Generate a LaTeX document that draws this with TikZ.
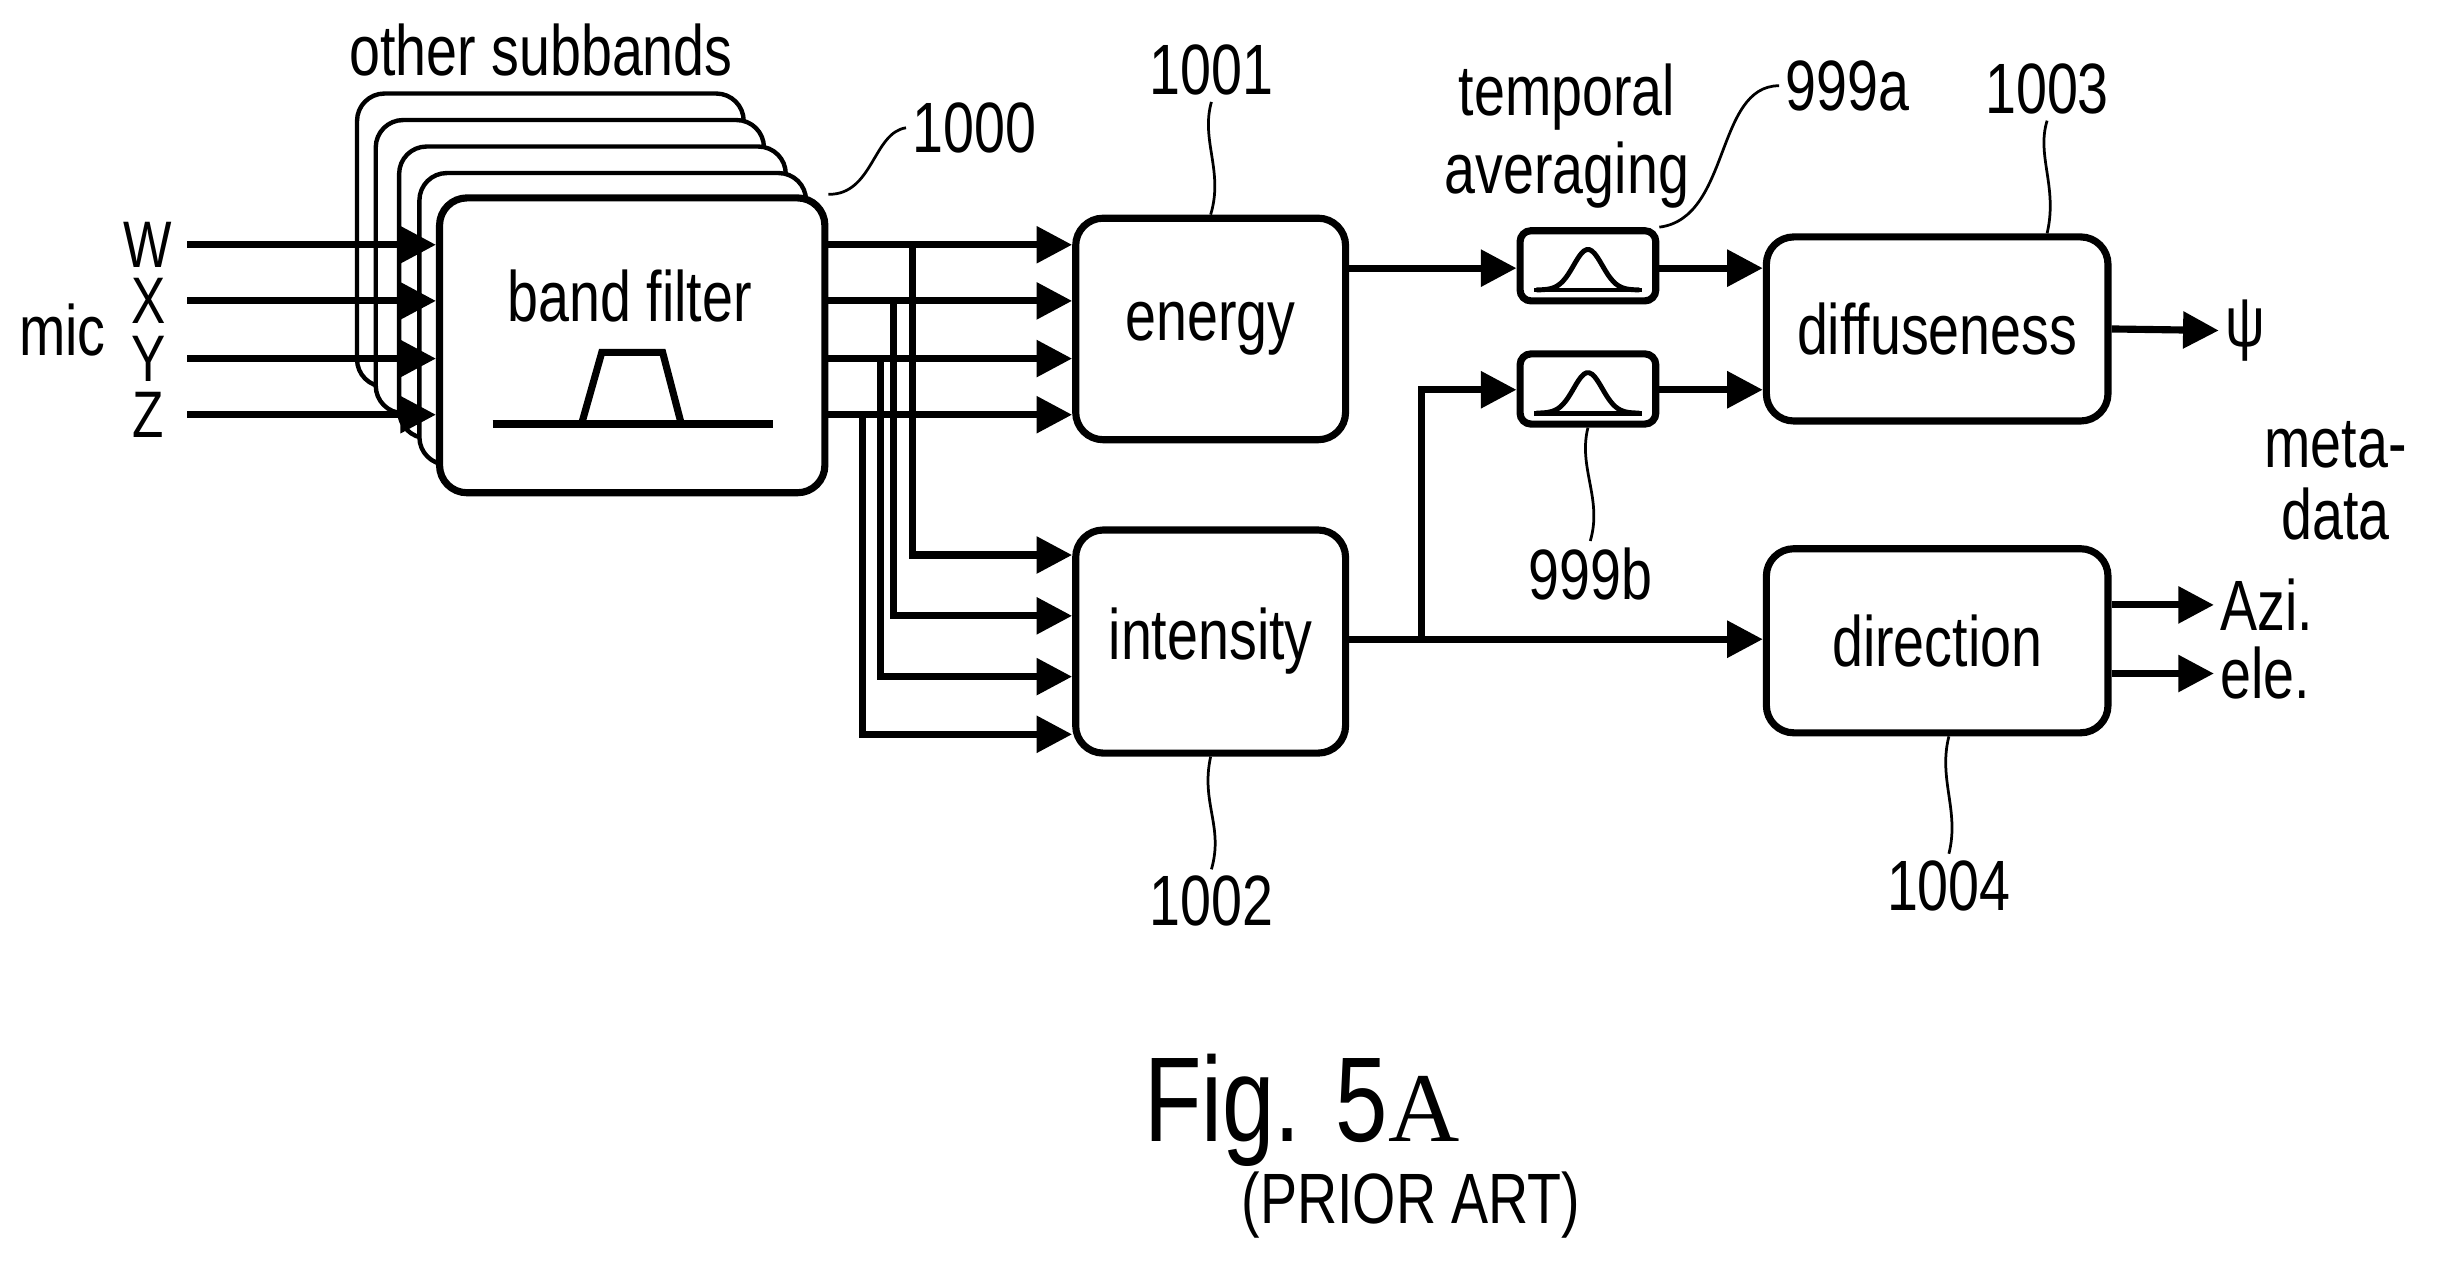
\documentclass[tikz,border=0pt]{standalone}
\usepackage{fontspec}
\setmainfont{Liberation Sans}[FakeStretch=0.78]
\newfontfamily\figserif{Liberation Serif}
\usetikzlibrary{arrows.meta}
\tikzset{
  box/.style={draw, line width=1.3pt, rounded corners=5pt, fill=white},
  sig/.style={line width=1.3pt, -{Triangle[length=6.5pt,width=6.5pt]}},
  wire/.style={line width=1.3pt},
  lead/.style={line width=0.5pt},
  lbl/.style={font=\fontsize{13}{15}\selectfont, inner sep=1pt}
}
\begin{document}
\begin{tikzpicture}[x=0.01cm, y=-0.01cm, font=\fontsize{13}{15}\selectfont]
            \useasboundingbox (0,0) rectangle (1565,819);

            % stacked subbands
            \draw[line width=0.8pt, rounded corners=5pt, fill=white] (229,60) rectangle (477,248);
            \draw[line width=0.8pt, rounded corners=5pt, fill=white] (241,77) rectangle (490,265);
            \draw[line width=0.8pt, rounded corners=5pt, fill=white] (256,94) rectangle (504,281);
            \draw[line width=0.8pt, rounded corners=5pt, fill=white] (269,111) rectangle (517,298);
            \node[box, minimum width=2.47cm, minimum height=1.89cm] (band) at (405.5,221.5) {};
            \node[lbl] (bandtxt) at (404,190) {band filter};
            \draw[wire] (316,272) -- (496,272);
            \draw[wire] (373,272) -- (386,226) -- (425,226) -- (437,272);
            \node[lbl] (other) at (347,32) {other subbands};

            % inputs
            \node[lbl] (mic) at (40,212) {mic};
            \foreach \n/\y in {W/157, X/193, Y/230, Z/266} {
                \node[lbl, inner sep=0pt, font=\fontsize{12}{13}\selectfont] (in\n) at (95,\y) {\n};
                \draw[sig] (120,\y) -- (band.west |- 0,\y);
            }

            % blocks
            \node[box, minimum width=1.73cm, minimum height=1.42cm] (energy) at (776.5,211) {energy};
            \node[box, minimum width=1.73cm, minimum height=1.43cm] (intens) at (776.5,411.5) {intensity};
            \node[box, rounded corners=2pt, minimum width=0.87cm, minimum height=0.45cm] (avga) at (1018.5,170.5) {};
            \node[box, rounded corners=2pt, minimum width=0.87cm, minimum height=0.45cm] (avgb) at (1018.5,249.5) {};
            \node[box, minimum width=2.19cm, minimum height=1.18cm] (diff) at (1242.5,211) {diffuseness};
            \node[box, minimum width=2.19cm, minimum height=1.18cm] (dir) at (1242.5,411) {direction};

            \draw[line width=0.9pt, domain=-33:33, samples=40, smooth, variable=\x] plot ({1018.5+\x}, {186-26*exp(-(\x/13)^2)});
            \draw[line width=0.9pt] (984,186) -- (1053,186);
            \draw[line width=0.9pt, domain=-33:33, samples=40, smooth, variable=\x] plot ({1018.5+\x}, {265-26*exp(-(\x/13)^2)});
            \draw[line width=0.9pt] (984,265) -- (1053,265);

            % band filter -> energy / intensity
            \foreach \y/\xb/\yb in {157/585/356, 193/573/395, 230/565/434, 266/553/471} {
                \draw[sig] (band.east |- 0,\y) -- (energy.west |- 0,\y);
                \draw[sig] (\xb,\y) -- (\xb,\yb) -- (intens.west |- 0,\yb);
            }

            % right part
            \draw[sig] (energy.east |- 0,172) -- (avga.west |- 0,172);
            \draw[sig] (avga.east |- 0,172) -- (diff.west |- 0,172);
            \draw[sig] (intens.east |- 0,410) -- (dir.west |- 0,410);
            \coordinate (split) at (912,410);
            \draw[sig] (split) -- (912,250) -- (avgb.west |- 0,250);
            \draw[sig] (avgb.east |- 0,250) -- (diff.west |- 0,250);
            \node[lbl] (psi) at (1440,212) {ψ};
            \draw[sig] (diff.east) -- (psi.west);
            \node[lbl, anchor=west] (azi) at (1420,388) {Azi.};
            \node[lbl, anchor=west] (ele) at (1420,432) {ele.};
            \draw[sig] (dir.east |- 0,388) -- (azi.west);
            \draw[sig] (dir.east |- 0,432) -- (ele.west);
            \node[lbl] (meta) at (1498,285) {meta-};
            \node[lbl] (data) at (1498,330) {data};
            \node[lbl] (temp1) at (1005,62) {temporal};
            \node[lbl] (temp2) at (1005,112) {averaging};

            % reference numerals
            \node[lbl] (n1000) at (625,82) {1000};
            \draw[lead] (band.north east) .. controls (560,125) and (560,85) .. (n1000.west);
            \node[lbl] (n1001) at (777,45) {1001};
            \draw[lead] (energy.north) .. controls (785,110) and (770,90) .. (n1001.south);
            \node[lbl] (n1002) at (777,578) {1002};
            \draw[lead] (intens.south) .. controls (770,515) and (785,530) .. (n1002.north);
            \node[lbl] (n999a) at (1185,55) {999a};
            \draw[lead] (avga.north east) .. controls (1110,140) and (1100,55) .. (n999a.west);
            \node[lbl] (n999b) at (1020,368) {999b};
            \draw[lead] (avgb.south) .. controls (1012,300) and (1028,320) .. (n999b.north);
            \node[lbl] (n1003) at (1313,57) {1003};
            \draw[lead] (diff.north -| 1313,0) .. controls (1320,120) and (1306,100) .. (n1003.south);
            \node[lbl] (n1004) at (1250,568) {1004};
            \draw[lead] (dir.south -| 1250,0) .. controls (1243,500) and (1257,520) .. (n1004.north);

            % caption
            \node[font=\fontsize{22}{26}\selectfont] (fig) at (835,712) {Fig. 5{\figserif\fontsize{18}{20}\selectfont A}};
            \node[lbl] (prior) at (905,773) {(PRIOR ART)};
\end{tikzpicture}
\end{document}
